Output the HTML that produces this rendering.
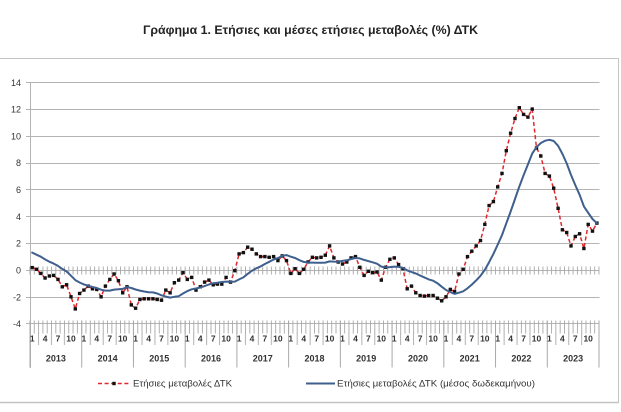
<!DOCTYPE html>
<html><head><meta charset="utf-8"><style>
html,body{margin:0;padding:0;background:#fff;}
svg{display:block;font-family:"Liberation Sans","DejaVu Sans",sans-serif;}
</style></head><body>
<svg width="621" height="412" viewBox="0 0 621 412" xmlns="http://www.w3.org/2000/svg">
<defs>
<pattern id="tk0" x="29.5" y="0" width="4.3106" height="412" patternUnits="userSpaceOnUse"><rect x="0" y="0" width="0.9" height="412" fill="#a8a8a8"/></pattern>
<pattern id="yr" x="29.5" y="0" width="51.727" height="412" patternUnits="userSpaceOnUse">
<rect x="0" y="0" width="1" height="412" fill="#a8a8a8"/></pattern>
<pattern id="lr" x="29.5" y="0" width="51.727" height="412" patternUnits="userSpaceOnUse">
<rect x="8.62" y="0" width="0.9" height="412" fill="#a8a8a8"/><rect x="21.55" y="0" width="0.9" height="412" fill="#a8a8a8"/><rect x="34.48" y="0" width="0.9" height="412" fill="#a8a8a8"/></pattern>
<marker id="sq" markerUnits="userSpaceOnUse" markerWidth="4" markerHeight="4" refX="2" refY="2" viewBox="0 0 4 4"><rect x="0.3" y="0.3" width="3.4" height="3.4" fill="#111"/></marker>
</defs>

<text x="310.5" y="34" text-anchor="middle" font-size="12" font-weight="bold" fill="#222" textLength="335" lengthAdjust="spacingAndGlyphs">Γράφημα 1. Ετήσιες και μέσες ετήσιες μεταβολές (%) ΔΤΚ</text>

<!-- border -->
<line x1="0" y1="58.5" x2="619" y2="58.5" stroke="#c4c4c4" stroke-width="1"/>
<line x1="618.5" y1="58" x2="618.5" y2="403" stroke="#c4c4c4" stroke-width="1"/>
<line x1="0" y1="402.5" x2="619" y2="402.5" stroke="#c4c4c4" stroke-width="1.5"/>

<!-- gridlines -->
<g stroke="#b4b4b4" stroke-width="1">
<line x1="26" y1="82.5" x2="599.5" y2="82.5"/>
<line x1="26" y1="109.5" x2="599.5" y2="109.5"/>
<line x1="26" y1="136.5" x2="599.5" y2="136.5"/>
<line x1="26" y1="163.5" x2="599.5" y2="163.5"/>
<line x1="26" y1="189.5" x2="599.5" y2="189.5"/>
<line x1="26" y1="216.5" x2="599.5" y2="216.5"/>
<line x1="26" y1="243.5" x2="599.5" y2="243.5"/>
<line x1="26" y1="270.5" x2="599.5" y2="270.5"/>
<line x1="26" y1="297.5" x2="599.5" y2="297.5"/>
<line x1="26" y1="323.5" x2="599.5" y2="323.5"/>
<line x1="30.5" y1="82" x2="30.5" y2="368"/>
</g>
<!-- ticks -->
<rect x="29.5" y="266.5" width="570.5" height="8" fill="url(#tk0)"/>
<rect x="29.5" y="320.5" width="570.5" height="13" fill="url(#tk0)"/>
<rect x="29.5" y="333" width="570.5" height="12" fill="url(#lr)"/>
<rect x="29.5" y="320.5" width="571" height="47" fill="url(#yr)"/>

<!-- y labels -->
<g font-size="9" fill="#333" text-anchor="end">
<text x="21" y="85.8">14</text>
<text x="21" y="112.6">12</text>
<text x="21" y="139.4">10</text>
<text x="21" y="166.2">8</text>
<text x="21" y="193">6</text>
<text x="21" y="219.9">4</text>
<text x="21" y="246.7">2</text>
<text x="21" y="273.5">0</text>
<text x="21" y="300.3">-2</text>
<text x="21" y="327.1">-4</text>
</g>

<!-- month labels -->
<g font-size="8.5" font-weight="bold" fill="#333" text-anchor="middle">
<text x="32.2" y="341.5">1</text><text x="45.1" y="341.5">4</text><text x="58.0" y="341.5">7</text><text x="71.0" y="341.5">10</text>
<text x="83.9" y="341.5">1</text><text x="96.8" y="341.5">4</text><text x="109.8" y="341.5">7</text><text x="122.7" y="341.5">10</text>
<text x="135.6" y="341.5">1</text><text x="148.6" y="341.5">4</text><text x="161.5" y="341.5">7</text><text x="174.4" y="341.5">10</text>
<text x="187.3" y="341.5">1</text><text x="200.3" y="341.5">4</text><text x="213.2" y="341.5">7</text><text x="226.1" y="341.5">10</text>
<text x="239.1" y="341.5">1</text><text x="252.0" y="341.5">4</text><text x="264.9" y="341.5">7</text><text x="277.9" y="341.5">10</text>
<text x="290.8" y="341.5">1</text><text x="303.7" y="341.5">4</text><text x="316.7" y="341.5">7</text><text x="329.6" y="341.5">10</text>
<text x="342.5" y="341.5">1</text><text x="355.5" y="341.5">4</text><text x="368.4" y="341.5">7</text><text x="381.3" y="341.5">10</text>
<text x="394.3" y="341.5">1</text><text x="407.2" y="341.5">4</text><text x="420.1" y="341.5">7</text><text x="433.1" y="341.5">10</text>
<text x="446.0" y="341.5">1</text><text x="458.9" y="341.5">4</text><text x="471.8" y="341.5">7</text><text x="484.8" y="341.5">10</text>
<text x="497.7" y="341.5">1</text><text x="510.6" y="341.5">4</text><text x="523.6" y="341.5">7</text><text x="536.5" y="341.5">10</text>
<text x="549.4" y="341.5">1</text><text x="562.4" y="341.5">4</text><text x="575.3" y="341.5">7</text><text x="588.2" y="341.5">10</text>
</g>
<!-- year labels -->
<g font-size="9" font-weight="bold" fill="#333" text-anchor="middle">
<text x="55.9" y="361.5">2013</text><text x="107.6" y="361.5">2014</text><text x="159.3" y="361.5">2015</text><text x="211.0" y="361.5">2016</text>
<text x="262.8" y="361.5">2017</text><text x="314.5" y="361.5">2018</text><text x="366.2" y="361.5">2019</text><text x="418.0" y="361.5">2020</text>
<text x="469.7" y="361.5">2021</text><text x="521.4" y="361.5">2022</text><text x="573.1" y="361.5">2023</text>
</g>

<!-- red series -->
<polyline fill="none" stroke="#e3262c" stroke-width="1.5" stroke-dasharray="4 2.6" marker-start="url(#sq)" marker-mid="url(#sq)" marker-end="url(#sq)" points="32.2,267.6 36.5,269.3 40.8,273.4 45.1,278.0 49.4,276.0 53.7,275.4 58.0,279.4 62.3,286.8 66.6,284.8 71.0,296.8 75.3,308.9 79.6,293.5 83.9,290.1 88.2,286.1 92.5,288.8 96.8,289.4 101.1,296.8 105.4,286.1 109.8,279.4 114.1,274.0 118.4,280.7 122.7,292.8 127.0,286.8 131.3,304.9 135.6,308.2 139.9,299.5 144.2,298.8 148.6,298.8 152.9,298.8 157.2,299.5 161.5,300.2 165.8,290.1 170.1,292.8 174.4,282.7 178.7,280.1 183.0,272.7 187.3,279.4 191.7,277.4 196.0,290.1 200.3,286.8 204.6,282.1 208.9,280.1 213.2,284.8 217.5,284.1 221.8,284.1 226.1,277.4 230.5,282.1 234.8,270.7 239.1,253.9 243.4,252.6 247.7,247.2 252.0,249.2 256.3,253.9 260.6,256.6 264.9,256.6 269.2,257.3 273.6,256.6 277.9,260.6 282.2,255.9 286.5,260.6 290.8,273.4 295.1,268.7 299.4,273.4 303.7,269.3 308.0,262.0 312.4,257.3 316.7,257.9 321.0,257.3 325.3,255.2 329.6,245.9 333.9,257.9 338.2,262.0 342.5,264.0 346.8,262.0 351.1,257.9 355.5,256.6 359.8,267.3 364.1,275.4 368.4,271.3 372.7,272.7 377.0,272.0 381.3,280.1 385.6,267.3 389.9,259.3 394.3,257.9 398.6,264.6 402.9,268.7 407.2,288.8 411.5,286.1 415.8,292.8 420.1,295.5 424.4,296.1 428.7,295.5 433.1,295.5 437.4,298.2 441.7,300.8 446.0,296.8 450.3,289.4 454.6,291.5 458.9,274.0 463.2,269.3 467.5,256.6 471.8,251.2 476.2,245.9 480.5,240.5 484.8,224.4 489.1,205.6 493.4,201.6 497.7,186.9 502.0,173.4 506.3,150.7 510.6,133.2 515.0,118.5 519.3,107.7 523.6,114.4 527.9,117.1 532.2,109.1 536.5,148.0 540.8,156.0 545.1,173.4 549.4,176.1 553.7,188.2 558.1,208.3 562.4,229.8 566.7,232.5 571.0,245.9 575.3,236.5 579.6,233.8 583.9,248.5 588.2,224.4 592.5,231.1 596.9,223.1"/>

<!-- blue series -->
<polyline fill="none" stroke="#3f5f8e" stroke-width="2" stroke-linejoin="round" stroke-linecap="round" points="32.2,252.6 36.5,254.7 40.8,256.7 45.1,259.4 49.4,261.7 53.7,263.6 58.0,265.9 62.3,268.9 66.6,271.5 71.0,275.7 75.3,280.1 79.6,282.5 83.9,284.4 88.2,285.8 92.5,287.0 96.8,288.0 101.1,289.7 105.4,290.6 109.8,290.6 114.1,289.6 118.4,289.2 122.7,288.9 127.0,287.0 131.3,288.0 135.6,289.5 139.9,290.6 144.2,291.5 148.6,292.2 152.9,292.4 157.2,293.5 161.5,295.3 165.8,296.6 170.1,297.6 174.4,296.8 178.7,296.2 183.0,293.5 187.3,291.1 191.7,289.3 196.0,288.5 200.3,287.5 204.6,286.1 208.9,284.5 213.2,283.2 217.5,282.7 221.8,282.0 226.1,281.6 230.5,281.7 234.8,281.6 239.1,279.4 243.4,277.4 247.7,273.8 252.0,270.7 256.3,268.3 260.6,266.4 264.9,264.0 269.2,261.8 273.6,259.5 277.9,258.1 282.2,255.9 286.5,255.1 290.8,256.7 295.1,258.0 299.4,260.2 303.7,261.9 308.0,262.6 312.4,262.6 316.7,262.7 321.0,262.7 325.3,262.6 329.6,261.4 333.9,261.6 338.2,261.7 342.5,260.9 346.8,260.3 351.1,259.0 355.5,258.0 359.8,258.4 364.1,259.9 368.4,261.1 372.7,262.3 377.0,263.7 381.3,266.6 385.6,267.4 389.9,267.1 394.3,266.6 398.6,266.9 402.9,267.8 407.2,270.4 411.5,272.0 415.8,273.5 420.1,275.5 424.4,277.4 428.7,279.4 433.1,280.7 437.4,283.2 441.7,286.7 446.0,290.0 450.3,292.0 454.6,293.9 458.9,292.7 463.2,291.3 467.5,288.3 471.8,284.6 476.2,280.4 480.5,275.8 484.8,269.9 489.1,262.2 493.4,253.9 497.7,244.7 502.0,235.1 506.3,223.3 510.6,211.6 515.0,199.0 519.3,186.6 523.6,175.2 527.9,164.5 532.2,153.6 536.5,147.2 540.8,143.0 545.1,140.7 549.4,139.8 553.7,141.0 558.1,145.8 562.4,153.9 566.7,163.4 571.0,174.9 575.3,185.1 579.6,194.8 583.9,206.4 588.2,212.8 592.5,219.0 596.9,223.2"/>

<!-- legend -->
<line x1="98" y1="383.5" x2="131" y2="383.5" stroke="#e3262c" stroke-width="1.5" stroke-dasharray="4 2.6"/>
<rect x="112.3" y="381.8" width="3.4" height="3.4" fill="#111"/>
<text x="133" y="386.5" font-size="9" fill="#333" textLength="99" lengthAdjust="spacingAndGlyphs">Ετήσιες μεταβολές ΔΤΚ</text>
<line x1="306" y1="383.5" x2="335" y2="383.5" stroke="#3f5f8e" stroke-width="2"/>
<text x="337" y="386.5" font-size="9" fill="#333" textLength="198" lengthAdjust="spacingAndGlyphs">Ετήσιες μεταβολές ΔΤΚ (μέσος δωδεκαμήνου)</text>
</svg>
</body></html>
